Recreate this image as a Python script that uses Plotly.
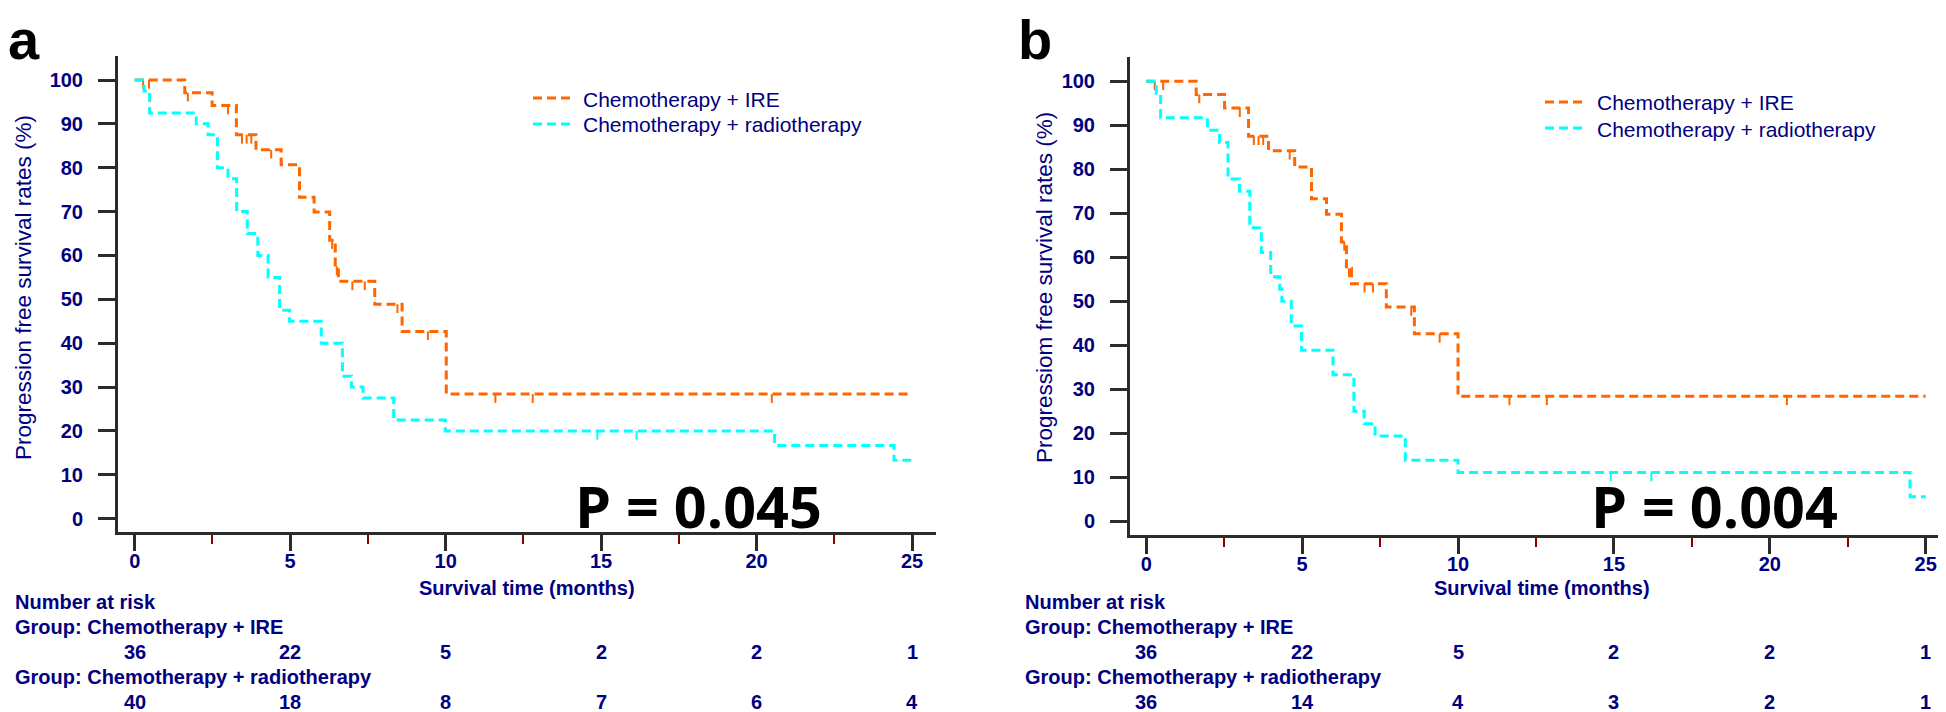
import plotly.graph_objects as go

# ---------------- data ----------------
# Panel a
a_ire_t = [0, 1.61, 2.49, 3.27, 3.9, 4.71, 5.3, 5.77, 6.27, 6.45, 6.55, 7.72, 8.6, 10.02]
a_ire_s = [100, 97.1, 94.2, 87.5, 84.1, 80.7, 73.3, 69.9, 63.5, 57.5, 54.1, 48.9, 42.7, 28.4]
a_ire_cens = [0.27, 0.46, 1.71, 3.0, 3.45, 3.6, 3.75, 4.39, 6.35, 6.5, 7.0, 7.4, 8.45, 9.43, 11.6, 12.8, 20.49]

a_rad_t = [0, 0.3, 0.48, 1.98, 2.36, 2.66, 3.0, 3.28, 3.62, 3.96, 4.29, 4.66, 4.98, 6.0, 6.68, 6.97, 7.34, 8.33, 9.99, 20.58, 24.42]
a_rad_s = [100, 97.5, 92.5, 90.0, 87.5, 80.0, 77.5, 70.0, 65.0, 60.0, 55.0, 47.5, 45.0, 40.0, 32.5, 30.0, 27.5, 22.5, 20.0, 16.7, 13.3]
a_rad_cens = [14.88, 16.14]

# Panel b
b_ire_t = [0, 1.6, 2.51, 3.28, 3.92, 4.76, 5.3, 5.78, 6.26, 6.42, 6.58, 7.7, 8.6, 10.0]
b_ire_s = [100, 97.0, 93.9, 87.5, 84.2, 80.5, 73.3, 69.8, 63.5, 57.5, 54.0, 48.7, 42.6, 28.4]
b_ire_cens = [0.27, 0.54, 1.7, 3.0, 3.45, 3.6, 3.75, 4.6, 6.35, 6.5, 7.0, 7.27, 8.5, 9.41, 11.65, 12.85, 20.55]

b_rad_t = [0, 0.32, 0.46, 1.96, 2.35, 2.62, 2.99, 3.32, 3.69, 3.99, 4.28, 4.35, 4.65, 4.98, 5.99, 6.66, 6.99, 7.34, 8.31, 10.0, 24.5]
b_rad_s = [100, 97.2, 91.7, 88.9, 86.1, 77.8, 75.0, 66.7, 61.1, 55.6, 52.8, 50.0, 44.4, 38.9, 33.3, 25.0, 22.2, 19.4, 13.9, 11.1, 5.6]
b_rad_cens = [14.9, 16.2]

t_end = 25
x_ticks = [0, 5, 10, 15, 20, 25]
y_ticks = list(range(0, 101, 10))

group_names = ["Chemotherapy + IRE", "Chemotherapy + radiotherapy"]
risk_a = {"Chemotherapy + IRE": [36, 22, 5, 2, 2, 1],
          "Chemotherapy + radiotherapy": [40, 18, 8, 7, 6, 4]}
risk_b = {"Chemotherapy + IRE": [36, 22, 5, 2, 2, 1],
          "Chemotherapy + radiotherapy": [36, 14, 4, 3, 2, 1]}
p_values = ["P = 0.045", "P = 0.004"]
y_titles = ["Progression free survival rates (%)", "Progressiom free survival rates (%)"]
x_title = "Survival time (months)"
panel_labels = ["a", "b"]

# ---------------- style ----------------
W, H = 1946, 712
ORANGE = "#FF6600"
CYAN = "#00FFFF"
NAVY = "#000080"
AXC = "#2b2b2b"
FONT = "Liberation Sans, Arial, sans-serif"
DASH = "9px,5px"
COLORS = [ORANGE, CYAN]


def surv_at(ts, ss, t):
    v = ss[0]
    for ti, si in zip(ts, ss):
        if ti <= t:
            v = si
    return v


def py(p):
    return 1 - p / H


fig = go.Figure()

panels = [
    dict(xa="x", ya="y",
         curves=[(a_ire_t, a_ire_s, a_ire_cens, ORANGE, group_names[0]),
                 (a_rad_t, a_rad_s, a_rad_cens, CYAN, group_names[1])]),
    dict(xa="x2", ya="y2",
         curves=[(b_ire_t, b_ire_s, b_ire_cens, ORANGE, group_names[0]),
                 (b_rad_t, b_rad_s, b_rad_cens, CYAN, group_names[1])]),
]

for pn in panels:
    for ts, ss, cens, col, name in pn["curves"]:
        fig.add_trace(go.Scatter(
            x=ts + [t_end], y=ss + [ss[-1]], mode="lines", line_shape="hv",
            line=dict(color=col, width=3, dash=DASH), name=name,
            xaxis=pn["xa"], yaxis=pn["ya"], showlegend=False))
        cy = [surv_at(ts, ss, c) for c in cens]
        fig.add_trace(go.Scatter(
            x=cens, y=cy, mode="markers",
            marker=dict(size=2, color="rgba(0,0,0,0)"),
            error_y=dict(type="data", symmetric=False, array=[0] * len(cens),
                         arrayminus=[2.0] * len(cens), width=0, thickness=2, color=col),
            xaxis=pn["xa"], yaxis=pn["ya"], showlegend=False, hoverinfo="skip"))

tickfont = dict(family=FONT, size=20, color=NAVY, weight="bold")

xcommon = dict(showline=True, linewidth=3, linecolor=AXC, showgrid=False, zeroline=False,
               ticks="outside", ticklen=16, tickwidth=3, tickcolor=AXC,
               tickvals=x_ticks, tickfont=tickfont, ticklabelstandoff=-7,
               minor=dict(ticks="outside", dtick=2.5, tick0=0, ticklen=9, tickwidth=2,
                          tickcolor="#8B0000", showgrid=False))
ycommon = dict(showline=True, linewidth=3, linecolor=AXC, showgrid=False, zeroline=False,
               ticks="outside", ticklen=17, tickwidth=3, tickcolor=AXC,
               tickvals=y_ticks, tickfont=tickfont, ticklabelstandoff=11)

fig.update_layout(
    width=W, height=H, margin=dict(l=0, r=0, t=0, b=0),
    paper_bgcolor="white", plot_bgcolor="white", showlegend=False,
    xaxis=dict(domain=[110 / W, 928 / W], range=[-0.537, 25.77], anchor="y", **xcommon),
    yaxis=dict(domain=[py(524), py(48)], range=[-3.03, 105.47], anchor="x", **ycommon),
    xaxis2=dict(domain=[1122 / W, 1.0], range=[-0.523, 25.91], anchor="y2", **xcommon),
    yaxis2=dict(domain=[py(527), py(49.3)], range=[-3.11, 105.45], anchor="x2", **ycommon),
)

ann = []
shapes = []

# legends (sample line + label)
for (lx0, lx1, tx, ys) in [(525, 562, 573, (90, 116)), (1537, 1576, 1587, (94, 120))]:
    for gi, g in enumerate(group_names):
        shapes.append(dict(type="line", xref="paper", yref="paper",
                           x0=lx0 / W, x1=lx1 / W, y0=py(ys[gi]), y1=py(ys[gi]),
                           line=dict(color=COLORS[gi], width=3, dash=DASH)))
        ann.append(dict(text=g, x=tx / W, y=py(ys[gi] + 1), xref="paper", yref="paper",
                        xanchor="left", yanchor="middle", showarrow=False,
                        font=dict(family=FONT, size=21, color=NAVY)))

# panel labels
ann.append(dict(text=panel_labels[0], x=0, y=1, xref="paper", yref="paper",
                xanchor="left", yanchor="top", showarrow=False, borderpad=0, borderwidth=0,
                font=dict(family=FONT, size=56, color="black", weight="bold")))
ann.append(dict(text=panel_labels[1], x=1010 / W, y=1, xref="paper", yref="paper",
                xanchor="left", yanchor="top", showarrow=False, borderpad=0, borderwidth=0,
                font=dict(family=FONT, size=56, color="black", weight="bold")))

# p values
for txt, xc in zip(p_values, [690, 1706]):
    ann.append(dict(text=txt, x=xc / W, y=py(498), xref="paper", yref="paper",
                    xanchor="center", yanchor="middle", showarrow=False,
                    font=dict(family="Open Sans, Noto Sans, sans-serif", size=57.5,
                              color="black", weight="bold")))

# y titles
for txt, xc in zip(y_titles, [15, 1036]):
    ann.append(dict(text=txt, x=xc / W, y=py(280), xref="paper", yref="paper",
                    xanchor="center", yanchor="middle", textangle=-90, showarrow=False,
                    font=dict(family=FONT, size=22.5, color=NAVY)))

# x titles
for dom in [(110, 928), (1122, 1946)]:
    ann.append(dict(text=x_title, x=(dom[0] + dom[1]) / 2 / W, y=py(580), xref="paper",
                    yref="paper", xanchor="center", yanchor="middle", showarrow=False,
                    font=dict(family=FONT, size=20, color=NAVY, weight="bold")))

# risk tables
bold20 = dict(family=FONT, size=20, color=NAVY, weight="bold")
for xr, left, risk in [("x", 5, risk_a), ("x2", 1015, risk_b)]:
    ann.append(dict(text="Number at risk", x=left / W, y=py(594), xref="paper", yref="paper",
                    xanchor="left", yanchor="middle", showarrow=False, font=bold20))
    for gi, g in enumerate(group_names):
        ann.append(dict(text="Group: " + g, x=left / W, y=py(619 + 50 * gi), xref="paper",
                        yref="paper", xanchor="left", yanchor="middle", showarrow=False,
                        font=bold20))
        for tv, n in zip(x_ticks, risk[g]):
            ann.append(dict(text=str(n), x=tv, y=py(644 + 50 * gi), xref=xr, yref="paper",
                            xanchor="center", yanchor="middle", showarrow=False, font=bold20))

fig.update_layout(annotations=ann, shapes=shapes)
fig.write_html("out.html")
